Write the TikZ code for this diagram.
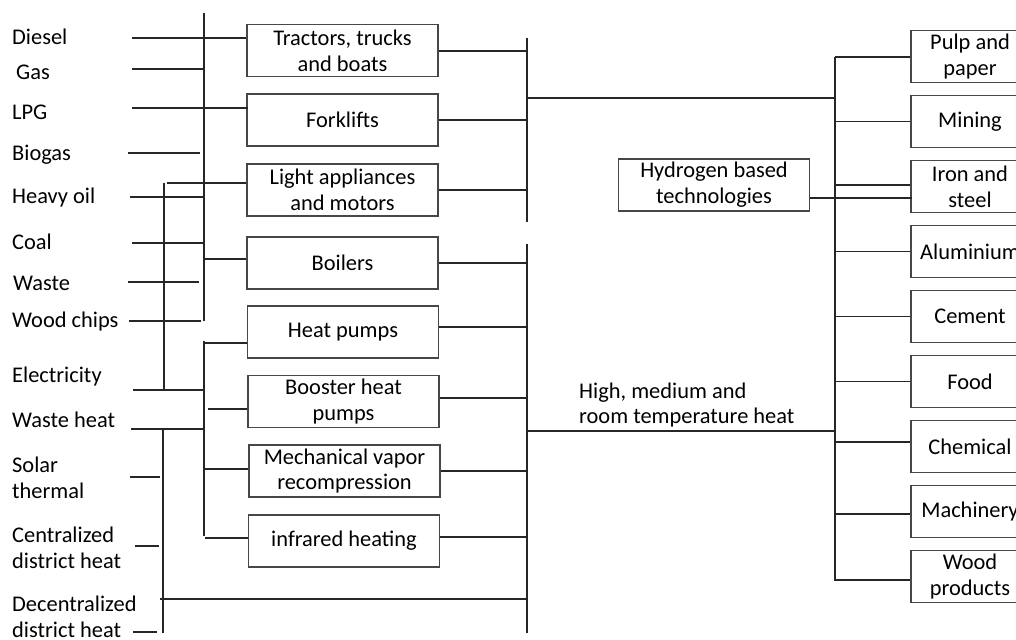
\documentclass[tikz,border=0pt]{standalone}
\usepackage{fontspec}
\setmainfont{Carlito}
\newcommand{\lblfont}{\fontsize{22.5}{26}\selectfont}
\begin{document}
\begin{tikzpicture}[x=1bp,y=-1bp,
  wire/.style={draw=black!85, line width=1.2bp},
  box/.style={draw=black!72, line width=1.3bp, minimum width=191bp, minimum height=52bp,
    inner sep=0pt, align=center, font=\lblfont},
  rbox/.style={box, minimum width=118bp},
  lbl/.style={anchor=west, align=left, inner sep=0pt, font=\lblfont}]
\clip (0,0) rectangle (1016,640);
\fill[white] (0,0) rectangle (1016,640);

% left labels
\node[lbl] (diesel) at (12,37) {Diesel};
\node[lbl] (gas) at (16,72) {Gas};
\node[lbl] (lpg) at (12,112) {LPG};
\node[lbl] (biogas) at (12,155) {Biogas};
\node[lbl] (heavy) at (12,198) {Heavy oil};
\node[lbl] (coal) at (12,242) {Coal};
\node[lbl] (waste) at (13,283) {Waste};
\node[lbl] (wood) at (12,322) {Wood chips};
\node[lbl] (elec) at (12,377) {Electricity};
\node[lbl] (wheat) at (12,420) {Waste heat};
\node[lbl] (solar) at (12,478) {Solar\\thermal};
\node[lbl] (central) at (12,548) {Centralized\\district heat};
\node[lbl] (decentral) at (12,617) {Decentralized\\district heat};

% middle boxes
\node[box] (trac) at (342.5,50.5) {Tractors, trucks\\and boats};
\node[box] (fork) at (342.5,120) {Forklifts};
\node[box] (light) at (342.5,190) {Light appliances\\and motors};
\node[box] (boil) at (342.5,263) {Boilers};
\node[box] (heat) at (343,332) {Heat pumps};
\node[box] (boost) at (343.5,401.5) {Booster heat\\pumps};
\node[box] (mech) at (344.5,471) {Mechanical vapor\\recompression};
\node[box] (infra) at (344,541) {infrared heating};

\node[box] (hydro) at (714,185) {Hydrogen based\\technologies};
\node[lbl] (hmr) at (579,405) {High, medium and\\room temperature heat};

% right boxes
\node[rbox] (pulp) at (970,56.5) {Pulp and\\paper};
\node[rbox] (mining) at (970,121.5) {Mining};
\node[rbox] (iron) at (970,186.5) {Iron and\\steel};
\node[rbox] (alu) at (970,251.5) {Aluminium};
\node[rbox] (cement) at (970,316.5) {Cement};
\node[rbox] (food) at (970,381.5) {Food};
\node[rbox] (chem) at (970,446.5) {Chemical};
\node[rbox] (mach) at (970,511.5) {Machinery};
\node[rbox] (woodp) at (970,576.5) {Wood\\products};

% buses
\coordinate (A1) at (204,13);  \coordinate (A2) at (204,321);
\coordinate (B1) at (164,183); \coordinate (B2) at (164,390);
\coordinate (C1) at (204,341); \coordinate (C2) at (204,536);
\coordinate (D1) at (163,429); \coordinate (D2) at (163,633);
\coordinate (E1) at (527,38);  \coordinate (E2) at (527,222);
\coordinate (F1) at (527,244); \coordinate (F2) at (527,633);
\coordinate (G1) at (835,57);  \coordinate (G2) at (835,581);
\foreach \a/\b in {A1/A2,B1/B2,C1/C2,D1/D2,E1/E2,F1/F2,G1/G2}
  \draw[wire] (\a) -- (\b);

% feed starts
\coordinate (sDiesel) at (132,38);
\coordinate (sGas) at (132,69);
\coordinate (sLpg) at (132,108);
\coordinate (sBio) at (128,153);
\coordinate (sLight) at (167,183);
\coordinate (sHeavy) at (130,197);
\coordinate (sCoal) at (132,243);
\coordinate (sBoil) at (204,259);
\coordinate (sWaste) at (128,282);
\coordinate (sWood) at (129,321);
\coordinate (sHeat) at (204,343);
\coordinate (sElec) at (133,390);
\coordinate (sBoost) at (208,409);
\coordinate (sWheat) at (131,429);
\coordinate (sMech) at (203,469);
\coordinate (sSolar) at (130,477);
\coordinate (sInfra) at (205,538);
\coordinate (sCentral) at (135,546);
\coordinate (sLong) at (160,599);
\coordinate (sDecentral) at (133,632);

\draw[wire] (sDiesel) -- (sDiesel -| trac.west);
\draw[wire] (sGas) -- (sGas -| A1);
\draw[wire] (sLpg) -- ([xshift=2bp]sLpg -| fork.west);
\draw[wire] (sBio) -- ([xshift=-4bp]sBio -| A1);
\draw[wire] (sLight) -- (sLight -| light.west);
\draw[wire] (sHeavy) -- (sHeavy -| A1);
\draw[wire] (sCoal) -- (sCoal -| A1);
\draw[wire] (sBoil) -- (sBoil -| boil.west);
\draw[wire] (sWaste) -- ([xshift=-5bp]sWaste -| A1);
\draw[wire] (sWood) -- ([xshift=-3bp]sWood -| A1);
\draw[wire] (sHeat) -- (sHeat -| heat.west);
\draw[wire] (sElec) -- (sElec -| C1);
\draw[wire] (sBoost) -- (sBoost -| boost.west);
\draw[wire] (sWheat) -- (sWheat -| C1);
\draw[wire] (sMech) -- (sMech -| mech.west);
\draw[wire] (sSolar) -- ([xshift=-3bp]sSolar -| D1);
\draw[wire] (sInfra) -- (sInfra -| infra.west);
\draw[wire] (sCentral) -- ([xshift=-4bp]sCentral -| D1);
\draw[wire] (sLong) -- (sLong -| F1);
\draw[wire] (sDecentral) -- ([xshift=-6bp]sDecentral -| D1);

% outputs to buses
\draw[wire] (trac.east |- 0,51) -- (E1 |- 0,51);
\draw[wire] (fork.east) -- (fork.east -| E1);
\draw[wire] (light.east) -- (light.east -| E1);
\draw[wire] (E1 |- 0,98) -- (G1 |- 0,98);
\draw[wire] (boil.east) -- (boil.east -| F1);
\draw[wire] (heat.east |- 0,327) -- (F1 |- 0,327);
\draw[wire] (boost.east |- 0,398) -- (F1 |- 0,398);
\draw[wire] (mech.east) -- (mech.east -| F1);
\draw[wire] (infra.east |- 0,537) -- (F1 |- 0,537);
\draw[wire] (F1 |- 0,431) -- (G1 |- 0,431);

% bus G to sectors
\draw[wire] (G1) -- (pulp.west |- G1);
\draw[wire] (G1 |- mining.west) -- (mining.west);
\draw[wire] (G1 |- 0,185) -- (iron.west |- 0,185);
\draw[wire] (G1 |- alu.west) -- (alu.west);
\draw[wire] (G1 |- cement.west) -- (cement.west);
\draw[wire] (G1 |- food.west) -- (food.west);
\draw[wire] (G1 |- 0,442) -- (chem.west |- 0,442);
\draw[wire] (G1 |- 0,514) -- (mach.west |- 0,514);
\draw[wire] (G1 |- 0,580) -- (woodp.west |- 0,580);
\draw[wire] (hydro.east |- 0,198) -- ([xshift=2bp]iron.west |- 0,198);
\end{tikzpicture}
\end{document}
